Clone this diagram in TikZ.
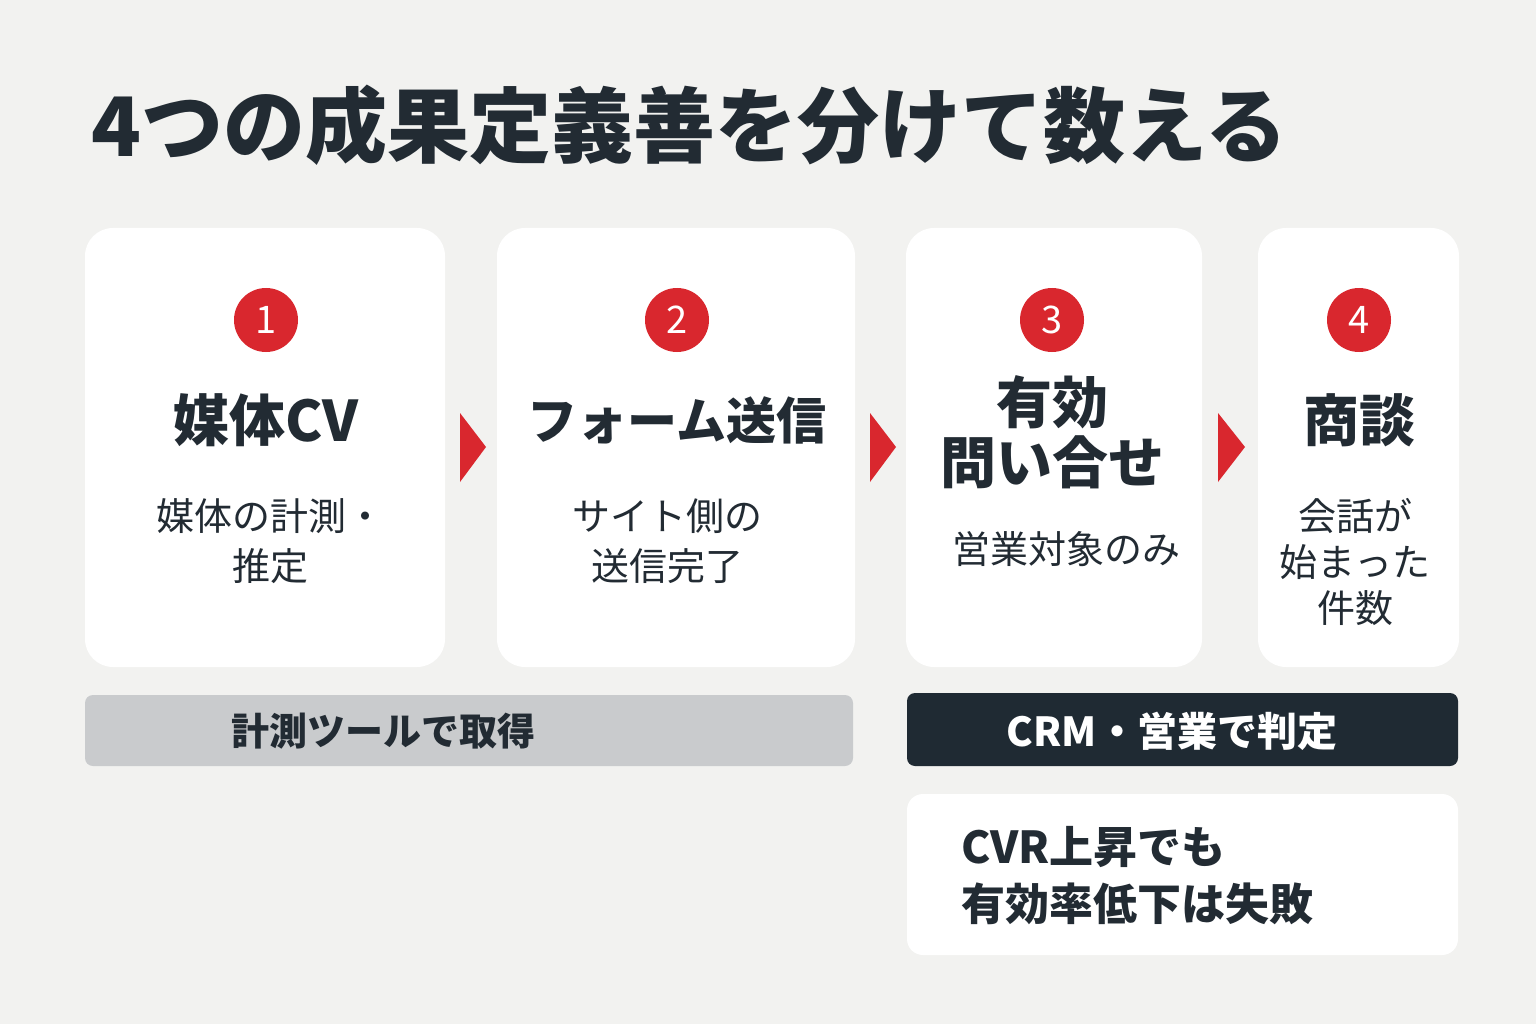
\documentclass[tikz,border=0pt]{standalone}
\usepackage{fontspec}
\setmainfont{Noto Sans CJK JP}
\begin{document}
\definecolor{bg}{HTML}{F2F2F0}
\definecolor{ink}{HTML}{222B33}
\definecolor{redc}{HTML}{D9272E}
\definecolor{grayb}{HTML}{C9CBCD}
\definecolor{darkb}{HTML}{1F2A33}
\begin{tikzpicture}[x=1pt,y=-1pt,
 card/.style={fill=white,rounded corners=28pt,draw=none},
 num/.style={circle,fill=redc,text=white,minimum size=64pt,inner sep=0pt,font=\fontsize{38}{40}\selectfont},
 head/.style={text=ink,font=\fontsize{56}{64}\selectfont\bfseries,align=center},
 sub/.style={text=ink,font=\fontsize{38}{50}\selectfont,align=center},
 tri/.style={fill=redc,draw=none}]
\useasboundingbox[fill=bg] (0,0) rectangle (1536,1024);
\node[anchor=west,text=ink,font=\fontsize{82}{90}\selectfont\bfseries] (title) at (88,125) {4つの成果定義善を分けて数える};
\path[card] (85,228) rectangle (445,667);
\path[card] (497,228) rectangle (855,667);
\path[card] (906,228) rectangle (1202,667);
\path[card] (1258,228) rectangle (1459,667);
\node[num] (n1) at (266,320) {1};
\node[num] (n2) at (677,320) {2};
\node[num] (n3) at (1052,320) {3};
\node[num] (n4) at (1359,320) {4};
\node[head] (h1) at (266,420) {媒体CV};
\node[head,font=\fontsize{50}{60}\selectfont\bfseries] (h2) at (677,420) {フォーム送信};
\node[head] (h3) at (1052,432) {有効\\[-4pt]問い合せ};
\node[head] (h4) at (1359,420) {商談};
\node[sub] (s1) at (270,541) {媒体の計測・\\推定};
\node[sub] (s2) at (667,541) {サイト側の\\送信完了};
\node[sub] (s3) at (1066,549) {営業対象のみ};
\node[sub,font=\fontsize{38}{46}\selectfont] (s4) at (1355,562) {会話が\\始まった\\件数};
\path[tri] (460,413) -- (486,447) -- (460,482) -- cycle;
\path[tri] (870,413) -- (896,447) -- (870,482) -- cycle;
\path[tri] (1218,413) -- (1245,447) -- (1218,482) -- cycle;
\path[fill=grayb,rounded corners=8pt] (85,695) rectangle (853,766);
\node[text=ink,font=\fontsize{38}{40}\selectfont\bfseries] (g) at (383,731) {計測ツールで取得};
\path[fill=darkb,rounded corners=8pt] (907,693) rectangle (1458,766);
\node[text=white,font=\fontsize{40}{40}\selectfont\bfseries] (d) at (1172,731) {CRM・営業で判定};
\path[card,rounded corners=16pt] (907,794) rectangle (1458,955);
\node[anchor=west,text=ink,align=left,font=\fontsize{44}{57}\selectfont\bfseries] (w) at (958,876) {CVR上昇でも\\有効率低下は失敗};
\end{tikzpicture}
\end{document}
